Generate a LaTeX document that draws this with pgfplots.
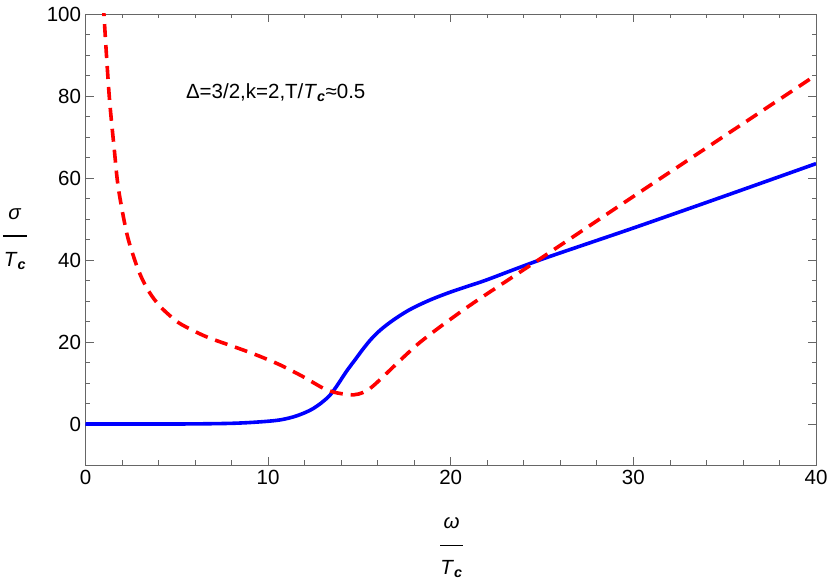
\documentclass[border=0pt]{standalone}
\usepackage{fontspec}
\setmainfont{Liberation Sans}
\usepackage{pgfplots}
\pgfplotsset{compat=1.18}

\begin{document}
\begin{tikzpicture}
\definecolor{mblue}{RGB}{0,0,255}
\definecolor{mred}{RGB}{255,0,0}
% page = picture, 1pt ~ 1px of the reference
\useasboundingbox (-85.5pt,-120pt) rectangle (744.5pt,465pt);
\begin{axis}[
  name=ax,
  at={(0,0)}, anchor=south west,
  scale only axis,
  width=730.5pt, height=451pt,
  xmin=0, xmax=40,
  ymin=-10, ymax=100,
  xtick={0,10,20,30,40},
  ytick={0,20,40,60,80,100},
  minor x tick num=4,
  minor y tick num=3,
  tick pos=both,
  tick align=inside,
  major tick length=8pt,
  minor tick length=4.5pt,
  every tick/.style={gray!80!black, line width=0.8pt},
  axis line style={gray!80!black, line width=0.8pt},
  /pgf/number format/assume math mode=true,
  ticklabel style={font=\fontsize{20.5}{24}\selectfont},
  xticklabel style={yshift=-2pt},
  yticklabel style={xshift=-1pt},
  clip=true,
]

% sigma real part (solid)
\addplot[mblue, line width=3.6pt, smooth]
coordinates {(0,0) (5,0) (7.9,0.15) (9.5,0.5) (10.66,1.0) (11.57,2.0)
 (12.48,3.8) (13.4,7.1) (14.3,12.9) (14.8,15.9) (15.2,18.3) (15.6,20.5)
 (16.04,22.5) (16.5,24.2) (17.0,25.8) (17.6,27.5) (18.2,28.9) (19.0,30.5)
 (20,32.2) (21,33.7) (22,35.2) (25,40.2) (30,47.8) (35,55.6) (40,63.5)};

% sigma imaginary part (dashed)
\addplot[mred, line width=3.6pt, dash pattern=on 13pt off 8pt, smooth]
coordinates {(0.8,118) (1.01,100) (1.3,80) (1.58,66.8) (1.8,57.5) (2.26,46.5)
 (2.71,39.8) (3.0,36.4) (3.35,33.2) (3.75,30.5) (4.17,28.3) (4.6,26.5)
 (5.0,25.0) (5.45,23.8) (6.45,21.6) (7.2,20.3)
 (8.1,18.9) (9.38,16.8) (10.66,14.4) (11.93,11.5) (13.03,8.7) (13.76,7.6)
 (14.67,7.1) (15.2,7.7) (15.59,8.7) (16.1,10.7) (17.2,15.4) (18.15,19.3) (19,22.3) (20,25.6)
 (21.4,30.0) (25,40.6) (30,55.5) (35,70.3) (40,85.1)};

\end{axis}

% annotation
\node[anchor=west, font=\fontsize{20.5}{24}\selectfont] at (97pt,372pt)
  {Δ=3/2,k=2,T/\textit{T}\textsubscript{\textbf{\textit{c}}}≈0.5};

% x label
\node at (366pt,-80.7pt) {\rule{23pt}{1.6pt}};
\node[font=\fontsize{20.5}{24}\selectfont] at (366pt,-58pt) {\textit{ω}};
\node[font=\fontsize{20.5}{24}\selectfont] at (366pt,-104pt) {\textit{T}\textsubscript{\textbf{\textit{c}}}};

% y label
\node at (-70.5pt,229pt) {\rule{24pt}{1.6pt}};
\node[font=\fontsize{20.5}{24}\selectfont] at (-70.5pt,251pt) {\textit{σ}};
\node[font=\fontsize{20.5}{24}\selectfont] at (-70.5pt,204pt) {\textit{T}\textsubscript{\textbf{\textit{c}}}};
\end{tikzpicture}
\end{document}
